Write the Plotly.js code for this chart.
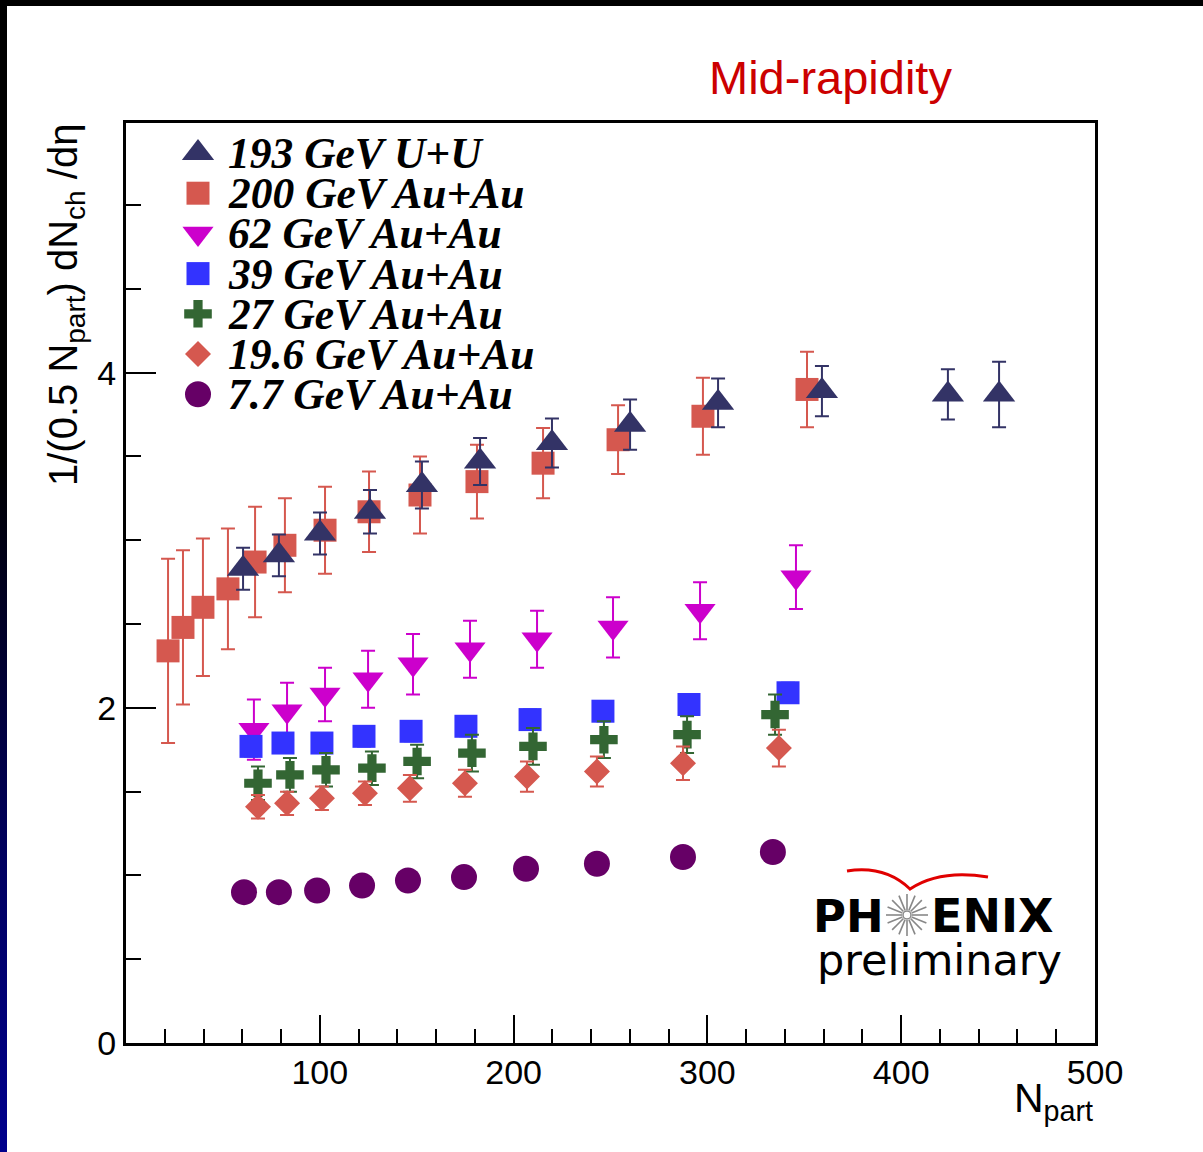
<!DOCTYPE html>
<html><head><meta charset="utf-8">
<script src="https://cdn.plot.ly/plotly-3.0.1.min.js"></script>
<style>
html,body{margin:0;padding:0;width:1203px;height:1152px;overflow:hidden;
background:linear-gradient(to bottom,#000 0%,#000 40%,#000060 75%,#00008c 100%);}
#chart{position:absolute;left:7px;top:6px;width:1196px;height:1146px;background:#fff;}
</style></head><body><div id="chart"></div><script>
// ---------------- data ----------------
const seriesNames = ["193 GeV U+U","200 GeV Au+Au","62 GeV Au+Au","39 GeV Au+Au","27 GeV Au+Au","19.6 GeV Au+Au","7.7 GeV Au+Au"];

const uu193_npart = [60.4, 78.9, 100.1, 125.9, 152.7, 182.7, 219.8, 260.1, 305.5, 359.1, 424.1, 450.5];
const uu193_val   = [2.83, 2.91, 3.04, 3.17, 3.33, 3.47, 3.58, 3.69, 3.82, 3.89, 3.87, 3.87];
const uu193_err   = [0.125, 0.125, 0.125, 0.13, 0.14, 0.14, 0.146, 0.15, 0.146, 0.15, 0.15, 0.195];

const au200_npart = [21.7, 29.4, 39.7, 52.6, 66.6, 82.0, 102.7, 125.4, 151.7, 181.1, 215.2, 253.9, 297.7, 351.4];
const au200_val   = [2.34, 2.48, 2.60, 2.71, 2.87, 2.97, 3.06, 3.17, 3.27, 3.35, 3.46, 3.60, 3.74, 3.90];
const au200_err   = [0.55, 0.46, 0.41, 0.36, 0.33, 0.28, 0.26, 0.24, 0.23, 0.22, 0.21, 0.205, 0.23, 0.225];

const au62_npart = [66.0, 83.1, 102.7, 124.9, 148.1, 177.5, 212.1, 251.3, 296.2, 345.7];
const au62_val   = [1.87, 1.98, 2.08, 2.17, 2.26, 2.35, 2.41, 2.48, 2.58, 2.78];
const au62_err   = [0.18, 0.17, 0.16, 0.17, 0.18, 0.17, 0.17, 0.18, 0.17, 0.19];

const au39_npart = [64.5, 81.0, 101.1, 122.8, 147.1, 175.4, 208.5, 246.1, 290.5, 341.6];
const au39_val   = [1.77, 1.79, 1.79, 1.83, 1.86, 1.89, 1.93, 1.98, 2.02, 2.09];
const au39_err   = [0.06, 0.06, 0.06, 0.06, 0.06, 0.06, 0.06, 0.06, 0.06, 0.06];

const au27_npart = [68.1, 84.6, 103.2, 126.9, 150.2, 178.5, 210.0, 246.6, 289.5, 334.9];
const au27_val   = [1.55, 1.60, 1.63, 1.64, 1.68, 1.73, 1.77, 1.81, 1.84, 1.96];
const au27_err   = [0.10, 0.10, 0.10, 0.10, 0.10, 0.11, 0.11, 0.11, 0.11, 0.12];

const au19_npart = [68.1, 83.1, 101.1, 123.3, 146.5, 174.9, 206.9, 243.0, 287.4, 336.9];
const au19_val   = [1.41, 1.43, 1.46, 1.49, 1.52, 1.55, 1.59, 1.62, 1.67, 1.76];
const au19_err   = [0.07, 0.07, 0.07, 0.07, 0.08, 0.08, 0.09, 0.09, 0.10, 0.11];

const au7_npart = [60.9, 78.9, 98.6, 121.8, 145.5, 174.4, 206.4, 243.0, 287.4, 333.8];
const au7_val   = [0.90, 0.90, 0.91, 0.94, 0.97, 0.99, 1.04, 1.07, 1.11, 1.14];
const au7_err   = [0.03, 0.03, 0.03, 0.03, 0.03, 0.03, 0.03, 0.03, 0.03, 0.03];

const xTickVals = [100, 200, 300, 400, 500];
const yTickVals = [0, 2, 4];

// ---------------- styles ----------------
const styles = [
  {color:"#333366", symbol:"triangle-up",   size:28},
  {color:"#d5584f", symbol:"square",        size:23},
  {color:"#cc00cc", symbol:"triangle-down", size:27},
  {color:"#3333ff", symbol:"square",        size:23},
  {color:"#336633", symbol:"cross",         size:23},
  {color:"#d5584f", symbol:"diamond",       size:20},
  {color:"#660066", symbol:"circle",        size:26}
];
const seriesData = [
  [uu193_npart, uu193_val, uu193_err],
  [au200_npart, au200_val, au200_err],
  [au62_npart, au62_val, au62_err],
  [au39_npart, au39_val, au39_err],
  [au27_npart, au27_val, au27_err],
  [au19_npart, au19_val, au19_err],
  [au7_npart, au7_val, au7_err]
];
const drawOrder = [1, 0, 2, 3, 4, 5, 6];

// page pixel -> paper helpers (plot area: x 126..1095, y 123..1043)
const PL=126, PR=1095, PT=123, PB=1043;
const px2x = p => (p-PL)/(PR-PL);
const py2y = p => (PB-p)/(PB-PT);

const traces = [];
drawOrder.forEach(i => {
  const [x, y, e] = seriesData[i];
  const s = styles[i];
  traces.push({
    type:"scatter", mode:"markers", x:x, y:y, name:seriesNames[i],
    marker:{symbol:s.symbol, size:s.size, color:s.color, line:{width:0}},
    error_y:{type:"data", array:e, visible:true, color:s.color, thickness:2, width:7},
    showlegend:false, hoverinfo:"x+y"
  });
});

// manual legend (markers on a hidden overlay axis spanning the plot area in page pixels)
const legendMarkerX = 198, legendTextX = 226, legendTopY = 153, legendStep = 40.2;
seriesNames.forEach((n, i) => {
  const s = styles[i];
  traces.push({
    type:"scatter", mode:"markers", xaxis:"x2", yaxis:"y2",
    x:[legendMarkerX], y:[legendTopY + i*legendStep],
    marker:{symbol:s.symbol, size:s.size, color:s.color, line:{width:0}},
    showlegend:false, hoverinfo:"skip"
  });
});

const annotations = [];
seriesNames.forEach((n, i) => {
  annotations.push({
    xref:"paper", yref:"paper", x:px2x(legendTextX), y:py2y(legendTopY + i*legendStep),
    xanchor:"left", yanchor:"middle", showarrow:false, text:n,
    font:{family:"Liberation Serif, Times New Roman, serif", size:43.5, color:"#000", weight:"bold", style:"italic"}
  });
});
// title
annotations.push({xref:"paper", yref:"paper", x:px2x(830), y:py2y(78), xanchor:"center", yanchor:"middle",
  showarrow:false, text:"Mid-rapidity", font:{family:"Liberation Sans, Arial, sans-serif", size:47, color:"#cc0000"}});
// y title
annotations.push({xref:"paper", yref:"paper", x:px2x(66), y:py2y(305), xanchor:"center", yanchor:"middle",
  showarrow:false, textangle:-90, text:"1/(0.5 N<sub>part</sub>) dN<sub>ch</sub> /dη",
  font:{family:"Liberation Sans, Arial, sans-serif", size:40, color:"#000"}});
// x title
annotations.push({xref:"paper", yref:"paper", x:px2x(1095), y:py2y(1101), xanchor:"right", yanchor:"middle",
  showarrow:false, text:"N<sub>part</sub>",
  font:{family:"Liberation Sans, Arial, sans-serif", size:41, color:"#000"}});
// PHENIX logo
annotations.push({xref:"paper", yref:"paper", x:px2x(886), y:py2y(916), xanchor:"right", yanchor:"middle",
  showarrow:false, text:"PH", font:{family:"DejaVu Sans, sans-serif", size:45, color:"#000", weight:"bold"}});
annotations.push({xref:"paper", yref:"paper", x:px2x(929), y:py2y(916), xanchor:"left", yanchor:"middle",
  showarrow:false, text:"ENIX", font:{family:"DejaVu Sans, sans-serif", size:46, color:"#000", weight:"bold"}});
annotations.push({xref:"paper", yref:"paper", x:px2x(939), y:py2y(960), xanchor:"center", yanchor:"middle",
  showarrow:false, text:"preliminary", font:{family:"DejaVu Sans, sans-serif", size:43, color:"#000"}});

const shapes = [];
const starX = px2x(907), starY = py2y(915);
for (let k = 0; k < 16; k++) {
  const a = k*Math.PI/8;
  shapes.push({type:"line", xref:"paper", yref:"paper", xsizemode:"pixel", ysizemode:"pixel",
    xanchor:starX, yanchor:starY,
    x0:5*Math.cos(a), y0:5*Math.sin(a), x1:21*Math.cos(a), y1:21*Math.sin(a),
    line:{color:"#888", width:1.6}});
}
shapes.push({type:"circle", xref:"paper", yref:"paper", xsizemode:"pixel", ysizemode:"pixel",
  xanchor:starX, yanchor:starY, x0:-4, y0:-4, x1:4, y1:4, line:{color:"#888", width:1.5}});
shapes.push({type:"path", xref:"paper", yref:"paper", xsizemode:"pixel", ysizemode:"pixel",
  xanchor:px2x(910), yanchor:py2y(889),
  path:"M-63,18 Q-25,24 0,0 Q30,20 78,12", line:{color:"#e00000", width:3}});

const layout = {
  width:1196, height:1146,
  margin:{l:119, r:108, t:117, b:109},
  paper_bgcolor:"#ffffff", plot_bgcolor:"#ffffff",
  showlegend:false,
  font:{family:"Liberation Sans, Arial, sans-serif", color:"#000"},
  xaxis:{range:[0,500], tickvals:xTickVals, ticks:"inside", ticklen:28, tickwidth:2, tickcolor:"#000",
    minor:{dtick:20, tick0:0, ticks:"inside", ticklen:14, tickwidth:2, tickcolor:"#000", showgrid:false},
    showline:true, linewidth:3, linecolor:"#000", mirror:true, showgrid:false, zeroline:false,
    tickfont:{size:34, family:"Liberation Sans, Arial, sans-serif"}, ticklabelstandoff:-3},
  yaxis:{range:[0,5.49], tickvals:yTickVals, ticks:"inside", ticklen:30, tickwidth:2, tickcolor:"#000",
    minor:{dtick:0.5, tick0:0, ticks:"inside", ticklen:15, tickwidth:2, tickcolor:"#000", showgrid:false},
    showline:true, linewidth:3, linecolor:"#000", mirror:true, showgrid:false, zeroline:false,
    tickfont:{size:34, family:"Liberation Sans, Arial, sans-serif"}, ticklabelstandoff:0},
  xaxis2:{overlaying:"x", range:[PL,PR], visible:false, fixedrange:true},
  yaxis2:{overlaying:"y", range:[PB,PT], visible:false, fixedrange:true},
  annotations:annotations, shapes:shapes
};

Plotly.newPlot("chart", traces, layout, {displayModeBar:false, staticPlot:true});
</script></body></html>
